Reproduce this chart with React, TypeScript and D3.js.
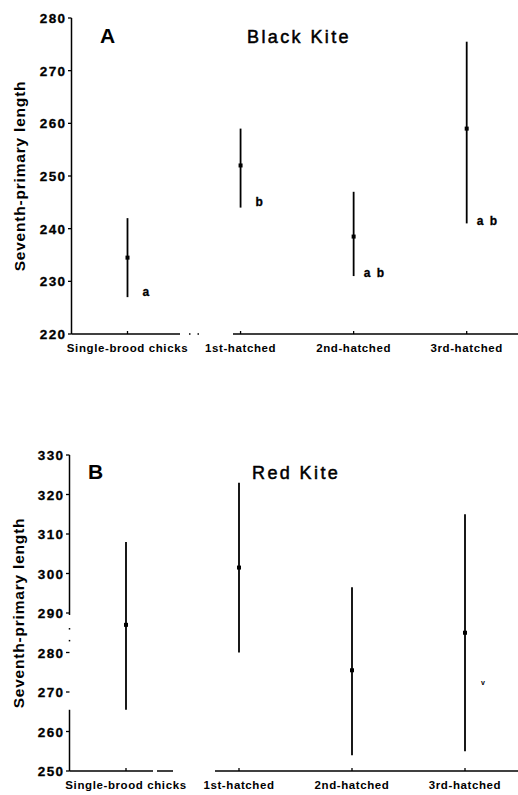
import React from "react";
import * as d3 from "d3";

const categories = ["Single-brood chicks", "1st-hatched", "2nd-hatched", "3rd-hatched"];

// Black Kite (panel A)
const blackKiteMin = [227, 244, 231, 241];
const blackKiteMax = [242, 259, 247, 275.5];
const blackKiteMean = [234.5, 252, 238.5, 259];
const blackKiteLetters = ["a", "b", "a b", "a b"];
const blackKiteLetterY = [228, 245, 231.5, 241.5];
const blackKiteTicks = [220, 230, 240, 250, 260, 270, 280];

// Red Kite (panel B)
const redKiteMin = [265.5, 280, 254, 255];
const redKiteMax = [308, 323, 296.5, 315];
const redKiteMean = [287, 301.5, 275.5, 285];
const redKiteTicks = [250, 260, 270, 280, 290, 300, 310, 320, 330];
const redKiteAxisDots = [286, 283];

const FONT = "'Liberation Sans', Arial, Helvetica, sans-serif";

type PanelProps = {
  letter: string;
  title: string;
  mins: number[];
  maxs: number[];
  means: number[];
  ticks: number[];
  letters?: string[];
  letterY?: number[];
  axisDots?: number[];
  axisX: number;
  top: number;
  bottom: number;
  xRange: [number, number];
  xSegments: [number, number][];
  ySegments: [number, number][];
  letterPos: [number, number];
  titlePos: [number, number];
  yTitleX: number;
  xLabelY: number;
};

function Panel(p: PanelProps) {
  const y = d3.scaleLinear().domain([p.ticks[0], p.ticks[p.ticks.length - 1]]).range([p.bottom, p.top]);
  const x = d3.scalePoint<string>().domain(categories).range(p.xRange);
  return (
    <g fontFamily={FONT} fill="#000">
      {/* y axis */}
      {p.ySegments.map(([a, b], i) => (
        <line key={"ys" + i} x1={p.axisX} x2={p.axisX} y1={y(a)} y2={y(b)} stroke="#000" strokeWidth={1.5} />
      ))}
      {(p.axisDots || []).map((d, i) => (
        <rect key={"yd" + i} x={p.axisX - 0.75} y={y(d) - 0.75} width={1.5} height={1.5} fill="#000" />
      ))}
      {p.ticks.map((t) => (
        <g key={t}>
          <line x1={p.axisX - 3.5} x2={p.axisX} y1={y(t)} y2={y(t)} stroke="#000" strokeWidth={1.3} />
          <text
            x={p.axisX - 5}
            y={y(t) + 5}
            textAnchor="end"
            fontSize={13.5}
            fontWeight="bold"
            letterSpacing={1.4}
            stroke="#000"
            strokeWidth={0.3}
          >
            {t}
          </text>
        </g>
      ))}
      {/* x axis */}
      {p.xSegments.map(([a, b], i) => (
        <line key={"xs" + i} x1={a} x2={b} y1={p.bottom} y2={p.bottom} stroke="#000" strokeWidth={1.5} />
      ))}
      {categories.map((c) => (
        <g key={c}>
          <line x1={x(c)!} x2={x(c)!} y1={p.bottom} y2={p.bottom - 3} stroke="#000" strokeWidth={1.3} />
          <text x={x(c)!} y={p.xLabelY} textAnchor="middle" fontSize={11.5} fontWeight="bold" letterSpacing={0.6}>
            {c}
          </text>
        </g>
      ))}
      {/* y title */}
      <text
        transform={`translate(${p.yTitleX},${(p.top + p.bottom) / 2}) rotate(-90)`}
        textAnchor="middle"
        fontSize={15.5}
        fontWeight="bold"
        letterSpacing={0.8}
      >
        Seventh-primary length
      </text>
      {/* panel letter and title */}
      <text x={p.letterPos[0]} y={p.letterPos[1]} fontSize={21} fontWeight="bold">
        {p.letter}
      </text>
      <text x={p.titlePos[0]} y={p.titlePos[1]} fontSize={18} letterSpacing={2.4} stroke="#000" strokeWidth={0.5}>
        {p.title}
      </text>
      {/* range lines and means */}
      {categories.map((c, i) => (
        <g key={"r" + c}>
          <line x1={x(c)!} x2={x(c)!} y1={y(p.maxs[i])} y2={y(p.mins[i])} stroke="#000" strokeWidth={1.8} />
          <rect x={x(c)! - 2} y={y(p.means[i]) - 2} width={4} height={4} fill="#000" />
        </g>
      ))}
      {p.letters &&
        p.letterY &&
        categories.map((c, i) => (
          <text
            key={"l" + c}
            x={x(c)! + (p.letters![i].length > 1 ? 10 : 15)}
            y={y(p.letterY![i]) + 4}
            fontSize={12}
            fontWeight="bold"
            letterSpacing={1.5}
            stroke="#000"
            strokeWidth={0.3}
          >
            {p.letters![i]}
          </text>
        ))}
    </g>
  );
}

export default function App() {
  return (
    <svg
      width={518}
      height={795}
      style={{ position: "absolute", left: 0, top: 0, background: "#fff" }}
    >
      <rect width={518} height={795} fill="#fff" />
      <Panel
        letter="A"
        title="Black Kite"
        mins={blackKiteMin}
        maxs={blackKiteMax}
        means={blackKiteMean}
        ticks={blackKiteTicks}
        letters={blackKiteLetters}
        letterY={blackKiteLetterY}
        axisX={71.5}
        top={18}
        bottom={334}
        xRange={[127.5, 466.7]}
        xSegments={[[71.5, 180], [189, 190.5], [197.5, 199], [233, 518]]}
        ySegments={[[220, 280]]}
        letterPos={[100, 43]}
        titlePos={[247, 43]}
        yTitleX={25}
        xLabelY={352}
      />
      <Panel
        letter="B"
        title="Red Kite"
        mins={redKiteMin}
        maxs={redKiteMax}
        means={redKiteMean}
        ticks={redKiteTicks}
        axisDots={redKiteAxisDots}
        axisX={69.5}
        top={455}
        bottom={771}
        xRange={[126, 465]}
        xSegments={[[69.5, 153], [157, 173], [215, 518]]}
        ySegments={[[289.5, 330], [250, 265.5]]}
        letterPos={[88, 479]}
        titlePos={[252, 479]}
        yTitleX={24}
        xLabelY={789}
      />
      <text x={481} y={685} fontSize={7} fontWeight="bold" fontFamily={FONT}>
        v
      </text>
    </svg>
  );
}
